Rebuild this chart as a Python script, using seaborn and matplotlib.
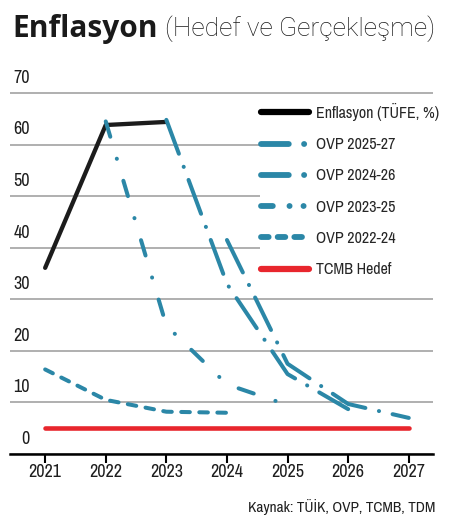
import matplotlib
matplotlib.use('Agg')
import matplotlib.pyplot as plt
from matplotlib import font_manager
from matplotlib.lines import Line2D
import pandas as pd
import seaborn as sns

# veriler
enf_yillar = [2021, 2022, 2023]
enflasyon = [36.1, 63.8, 64.4]

ovp_2022_24_yillar = [2021, 2022, 2023, 2024]
ovp_2022_24 = [16.4, 10.5, 8.2, 8.0]

ovp_2023_25_yillar = [2022, 2023, 2024, 2025]
ovp_2023_25 = [64.5, 24.9, 13.5, 9.5]

ovp_2024_26_yillar = [2023, 2024, 2025, 2026]
ovp_2024_26 = [64.8, 33.0, 15.5, 8.7]

ovp_2025_27_yillar = [2024, 2025, 2026, 2027]
ovp_2025_27 = [41.5, 17.5, 9.7, 7.0]

hedef_yillar = [2021, 2022, 2023, 2024, 2025, 2026, 2027]
tcmb_hedef = [5, 5, 5, 5, 5, 5, 5]

y_ticks = [0, 10, 20, 30, 40, 50, 60, 70]
x_ticks = [2021, 2022, 2023, 2024, 2025, 2026, 2027]

SIYAH = "#1c1c1c"
MAVI = "#2b87a7"
KIRMIZI = "#e8262d"
GRI = "#9a9a9a"

sns.set_theme(style="white")
plt.rcParams['font.family'] = ['Roboto', 'DejaVu Sans']
plt.rcParams['lines.scale_dashes'] = False


def dar_font_bul():
    # kondanse bir yazi tipi ara (yoksa Roboto kullanilir)
    adaylar = []
    for f in font_manager.fontManager.ttflist:
        ad = (f.name + ' ' + f.fname).lower()
        dar_mi = ('condensed' in ad or 'narrow' in ad or
                  (isinstance(f.stretch, str) and 'condensed' in f.stretch) or
                  (isinstance(f.stretch, int) and f.stretch < 500))
        if not dar_mi or f.style != 'normal':
            continue
        if 'extra' in ad or 'ultra' in ad or 'semi' in ad:
            continue
        w = f.weight if isinstance(f.weight, int) else 400
        adaylar.append((abs(w - 450), f.name, f.fname))
    if not adaylar:
        return None
    adaylar.sort()
    return adaylar[0][2]


dar_yol = dar_font_bul()


def fp(boyut):
    if dar_yol:
        return font_manager.FontProperties(fname=dar_yol, size=boyut)
    return font_manager.FontProperties(family='Roboto', size=boyut * 0.85)


fig = plt.figure(figsize=(4.66, 5.17), dpi=100)
ax = fig.add_axes([10 / 466, 63 / 517, 423 / 466, (454 - 91.5) / 517])


def ciz(yillar, degerler, renk, lw, desen=None, z=3):
    df = pd.DataFrame({'yil': yillar, 'deger': degerler})
    sns.lineplot(data=df, x='yil', y='deger', color=renk, lw=lw, ax=ax, zorder=z)
    cizgi = ax.lines[-1]
    cizgi.set_solid_capstyle('round')
    if desen is not None:
        cizgi.set_dashes(desen)
        cizgi.set_dash_capstyle('round')
    return cizgi


lw_mavi = 2.9
desen_uzun = (26, 10, 0.1, 10)
desen_nokta = (11.5, 16.5, 0.1, 16.5)
desen_kesik = (6.2, 6.8)

ciz(hedef_yillar, tcmb_hedef, KIRMIZI, 3.3, z=2)
ciz(enf_yillar, enflasyon, SIYAH, 3.1, z=3)
ciz(ovp_2022_24_yillar, ovp_2022_24, MAVI, lw_mavi, desen_kesik, z=4)
ciz(ovp_2023_25_yillar, ovp_2023_25, MAVI, lw_mavi, desen_nokta, z=4)
ciz(ovp_2024_26_yillar, ovp_2024_26, MAVI, lw_mavi, desen_uzun, z=4)
ciz(ovp_2025_27_yillar, ovp_2025_27, MAVI, lw_mavi, desen_uzun, z=4)

ax.set_xlim(2020.42, 2027.40)
ax.set_ylim(0, 70.3)
ax.set_xlabel('')
ax.set_ylabel('')

ax.set_yticks(y_ticks)
ax.set_yticklabels([])
ax.tick_params(axis='y', length=0)
ax.yaxis.grid(True, color=GRI, lw=1.1)
ax.xaxis.grid(False)
ax.set_axisbelow(True)
for v in y_ticks:
    ax.text(0.047, v + 1.4, str(v), transform=ax.get_yaxis_transform(),
            ha='right', va='bottom', fontproperties=fp(13), color='#1e1e1e')

ax.set_xticks(x_ticks)
ax.set_xticklabels([str(x) for x in x_ticks], color='#1e1e1e')
for t in ax.get_xticklabels():
    t.set_fontproperties(fp(13))
ax.tick_params(axis='x', bottom=True, length=6.5, width=1.5, color='black', pad=1.0)

for s in ['top', 'right', 'left']:
    ax.spines[s].set_visible(False)
ax.spines['bottom'].set_color('black')
ax.spines['bottom'].set_linewidth(1.8)

# lejant
tutamaklar = [
    Line2D([], [], color='black', lw=4.5, solid_capstyle='round'),
    Line2D([], [], color=MAVI, lw=4.2, dashes=(20, 11, 0.1, 10), dash_capstyle='round'),
    Line2D([], [], color=MAVI, lw=4.2, dashes=(20, 11, 0.1, 10), dash_capstyle='round'),
    Line2D([], [], color=MAVI, lw=4.2, dashes=(8.5, 12, 0.1, 10, 0.1, 10), dash_capstyle='round'),
    Line2D([], [], color=MAVI, lw=4.2, dashes=(5.5, 6.5), dash_capstyle='round'),
    Line2D([], [], color=KIRMIZI, lw=4.5, solid_capstyle='round'),
]
etiketler = ['Enflasyon (TÜFE, %)', 'OVP 2025-27', 'OVP 2024-26', 'OVP 2023-25',
             'OVP 2022-24', 'TCMB Hedef']
leg = ax.legend(tutamaklar, etiketler, loc='upper left',
                bbox_to_anchor=(252 / 466, 1 - 94 / 517), bbox_transform=fig.transFigure,
                prop=fp(11.5), handlelength=3.0, handletextpad=0.45, labelspacing=1.02,
                frameon=True, facecolor='white', edgecolor='none', framealpha=1,
                borderpad=0.05, fancybox=False)
leg.set_zorder(5)

fig.text(12 / 466, 1 - 37 / 517, 'Enflasyon', fontsize=21.5, fontweight='bold',
         family=['Open Sans', 'DejaVu Sans'], color='#1a1a1a', va='baseline', ha='left')
fig.text(165 / 466, 1 - 36 / 517, '(Hedef ve Gerçekleşme)', fontsize=19, fontweight='light',
         family=['Roboto', 'DejaVu Sans'], color='#1a1a1a', va='baseline', ha='left')
fig.text(435 / 466, 1 - 507 / 517, 'Kaynak: TÜİK, OVP, TCMB, TDM', fontproperties=fp(11),
         color='#1e1e1e', ha='right', va='center')

fig.savefig('out.png', dpi=100, facecolor='white')
